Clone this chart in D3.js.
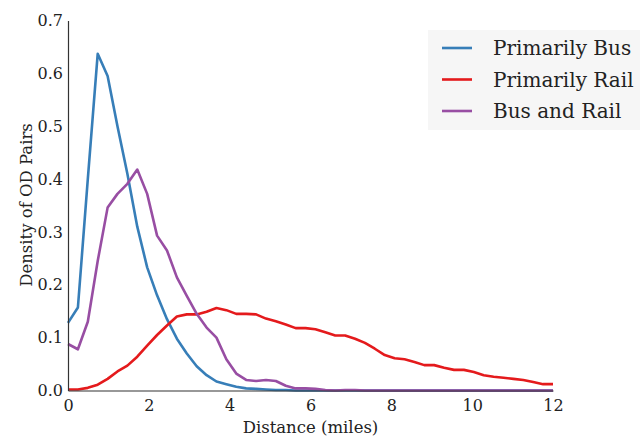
<!DOCTYPE html>
<html>
<head>
<meta charset="utf-8">
<script src="https://cdn.jsdelivr.net/npm/d3@7"></script>
<style>
  body { margin: 0; background: #fff; }
  text { font-family: "DejaVu Serif", serif; fill: #222; }
</style>
</head>
<body>
<svg id="chart"></svg>
<script>
// distance bins (miles)
const distance = [0, 0.245, 0.49, 0.735, 0.98, 1.224, 1.469, 1.714, 1.959, 2.204,
  2.449, 2.694, 2.939, 3.184, 3.429, 3.673, 3.918, 4.163, 4.408, 4.653,
  4.898, 5.143, 5.388, 5.633, 5.878, 6.122, 6.367, 6.612, 6.857, 7.102,
  7.347, 7.592, 7.837, 8.082, 8.327, 8.571, 8.816, 9.061, 9.306, 9.551,
  9.796, 10.041, 10.286, 10.531, 10.776, 11.02, 11.265, 11.51, 11.755, 12];

const primarilyBus = [0.128, 0.157, 0.40, 0.637, 0.595, 0.50, 0.41, 0.31, 0.233, 0.18,
  0.135, 0.098, 0.07, 0.046, 0.029, 0.017, 0.012, 0.007, 0.004, 0.003,
  0.002, 0.001, 0.001, 0, 0, 0, 0, 0, 0, 0,
  0, 0, 0, 0, 0, 0, 0, 0, 0, 0,
  0, 0, 0, 0, 0, 0, 0, 0, 0, 0];

const primarilyRail = [0.002, 0.002, 0.005, 0.011, 0.022, 0.036, 0.047, 0.064, 0.085, 0.105,
  0.123, 0.14, 0.144, 0.144, 0.149, 0.156, 0.152, 0.145, 0.145, 0.144,
  0.136, 0.131, 0.125, 0.118, 0.118, 0.116, 0.11, 0.104, 0.104, 0.098,
  0.09, 0.079, 0.067, 0.061, 0.059, 0.054, 0.048, 0.048, 0.043, 0.039,
  0.039, 0.035, 0.029, 0.026, 0.024, 0.022, 0.02, 0.016, 0.012, 0.012];

const busAndRail = [0.088, 0.078, 0.13, 0.245, 0.346, 0.372, 0.391, 0.418, 0.372, 0.293,
  0.265, 0.214, 0.179, 0.145, 0.119, 0.1, 0.059, 0.032, 0.02, 0.018,
  0.02, 0.018, 0.009, 0.004, 0.004, 0.003, 0.001, 0, 0.001, 0.001,
  0, 0, 0, 0, 0, 0, 0, 0, 0, 0,
  0, 0, 0, 0, 0, 0, 0, 0, 0, 0];

const seriesNames = ["Primarily Bus", "Primarily Rail", "Bus and Rail"];
const seriesColors = ["#377eb8", "#e41a1c", "#984ea3"];
const xTicks = [0, 2, 4, 6, 8, 10, 12];
const yTicks = [0, 0.1, 0.2, 0.3, 0.4, 0.5, 0.6, 0.7];

const width = 640, height = 443;
const margin = {top: 20.5, right: 87, bottom: 52.5, left: 68};

let svg = d3.select("#chart")
    .attr("width", width)
    .attr("height", height);

const x = d3.scaleLinear().domain([0, 12]).range([margin.left, width - margin.right]);
const y = d3.scaleLinear().domain([0, 0.7]).range([height - margin.bottom, margin.top]);

const series = [primarilyBus, primarilyRail, busAndRail];

const line = d3.line()
    .x((d, i) => x(distance[i]))
    .y(d => y(d));

svg.selectAll("path.series")
    .data(series)
    .enter()
    .append("path")
    .attr("class", "series")
    .attr("fill", "none")
    .attr("stroke", (d, i) => seriesColors[i])
    .attr("stroke-width", 2.6)
    .attr("stroke-linejoin", "round")
    .attr("d", line);

// axes: left + bottom spines only, no tick marks
let xAxis = svg.append("g")
    .attr("transform", `translate(0,${y(0)})`)
    .call(d3.axisBottom(x).tickValues(xTicks).tickSize(0).tickPadding(9).tickFormat(d3.format("d")));
let yAxis = svg.append("g")
    .attr("transform", `translate(${x(0)},0)`)
    .call(d3.axisLeft(y).tickValues(yTicks).tickSize(0).tickPadding(5).tickFormat(d3.format(".1f")));

[xAxis, yAxis].forEach(a => {
    a.select(".domain").attr("stroke", "#333").attr("stroke-width", 1.2);
    a.selectAll("text")
        .style("font-family", "'DejaVu Serif', serif")
        .style("font-size", "16px")
        .attr("fill", "#222");
});

svg.append("text")
    .attr("x", (x(0) + x(12)) / 2)
    .attr("y", 433)
    .attr("text-anchor", "middle")
    .style("font-size", "16.5px")
    .text("Distance (miles)");

svg.append("text")
    .attr("transform", "translate(32,205) rotate(-90)")
    .attr("text-anchor", "middle")
    .style("font-size", "16.5px")
    .text("Density of OD Pairs");

// legend
let legend = svg.append("g");
legend.append("rect")
    .attr("x", 428).attr("y", 30)
    .attr("width", 220).attr("height", 100)
    .attr("fill", "#f6f6f6");

let items = legend.selectAll("g.item")
    .data(seriesNames)
    .enter()
    .append("g")
    .attr("class", "item")
    .attr("transform", (d, i) => `translate(0,${48 + i * 31.5})`);

items.append("line")
    .attr("x1", 442).attr("x2", 472)
    .attr("stroke", (d, i) => seriesColors[i])
    .attr("stroke-width", 2.6);

items.append("text")
    .attr("x", 493)
    .attr("dy", "0.35em")
    .style("font-size", "20px")
    .text(d => d);
</script>
</body>
</html>
